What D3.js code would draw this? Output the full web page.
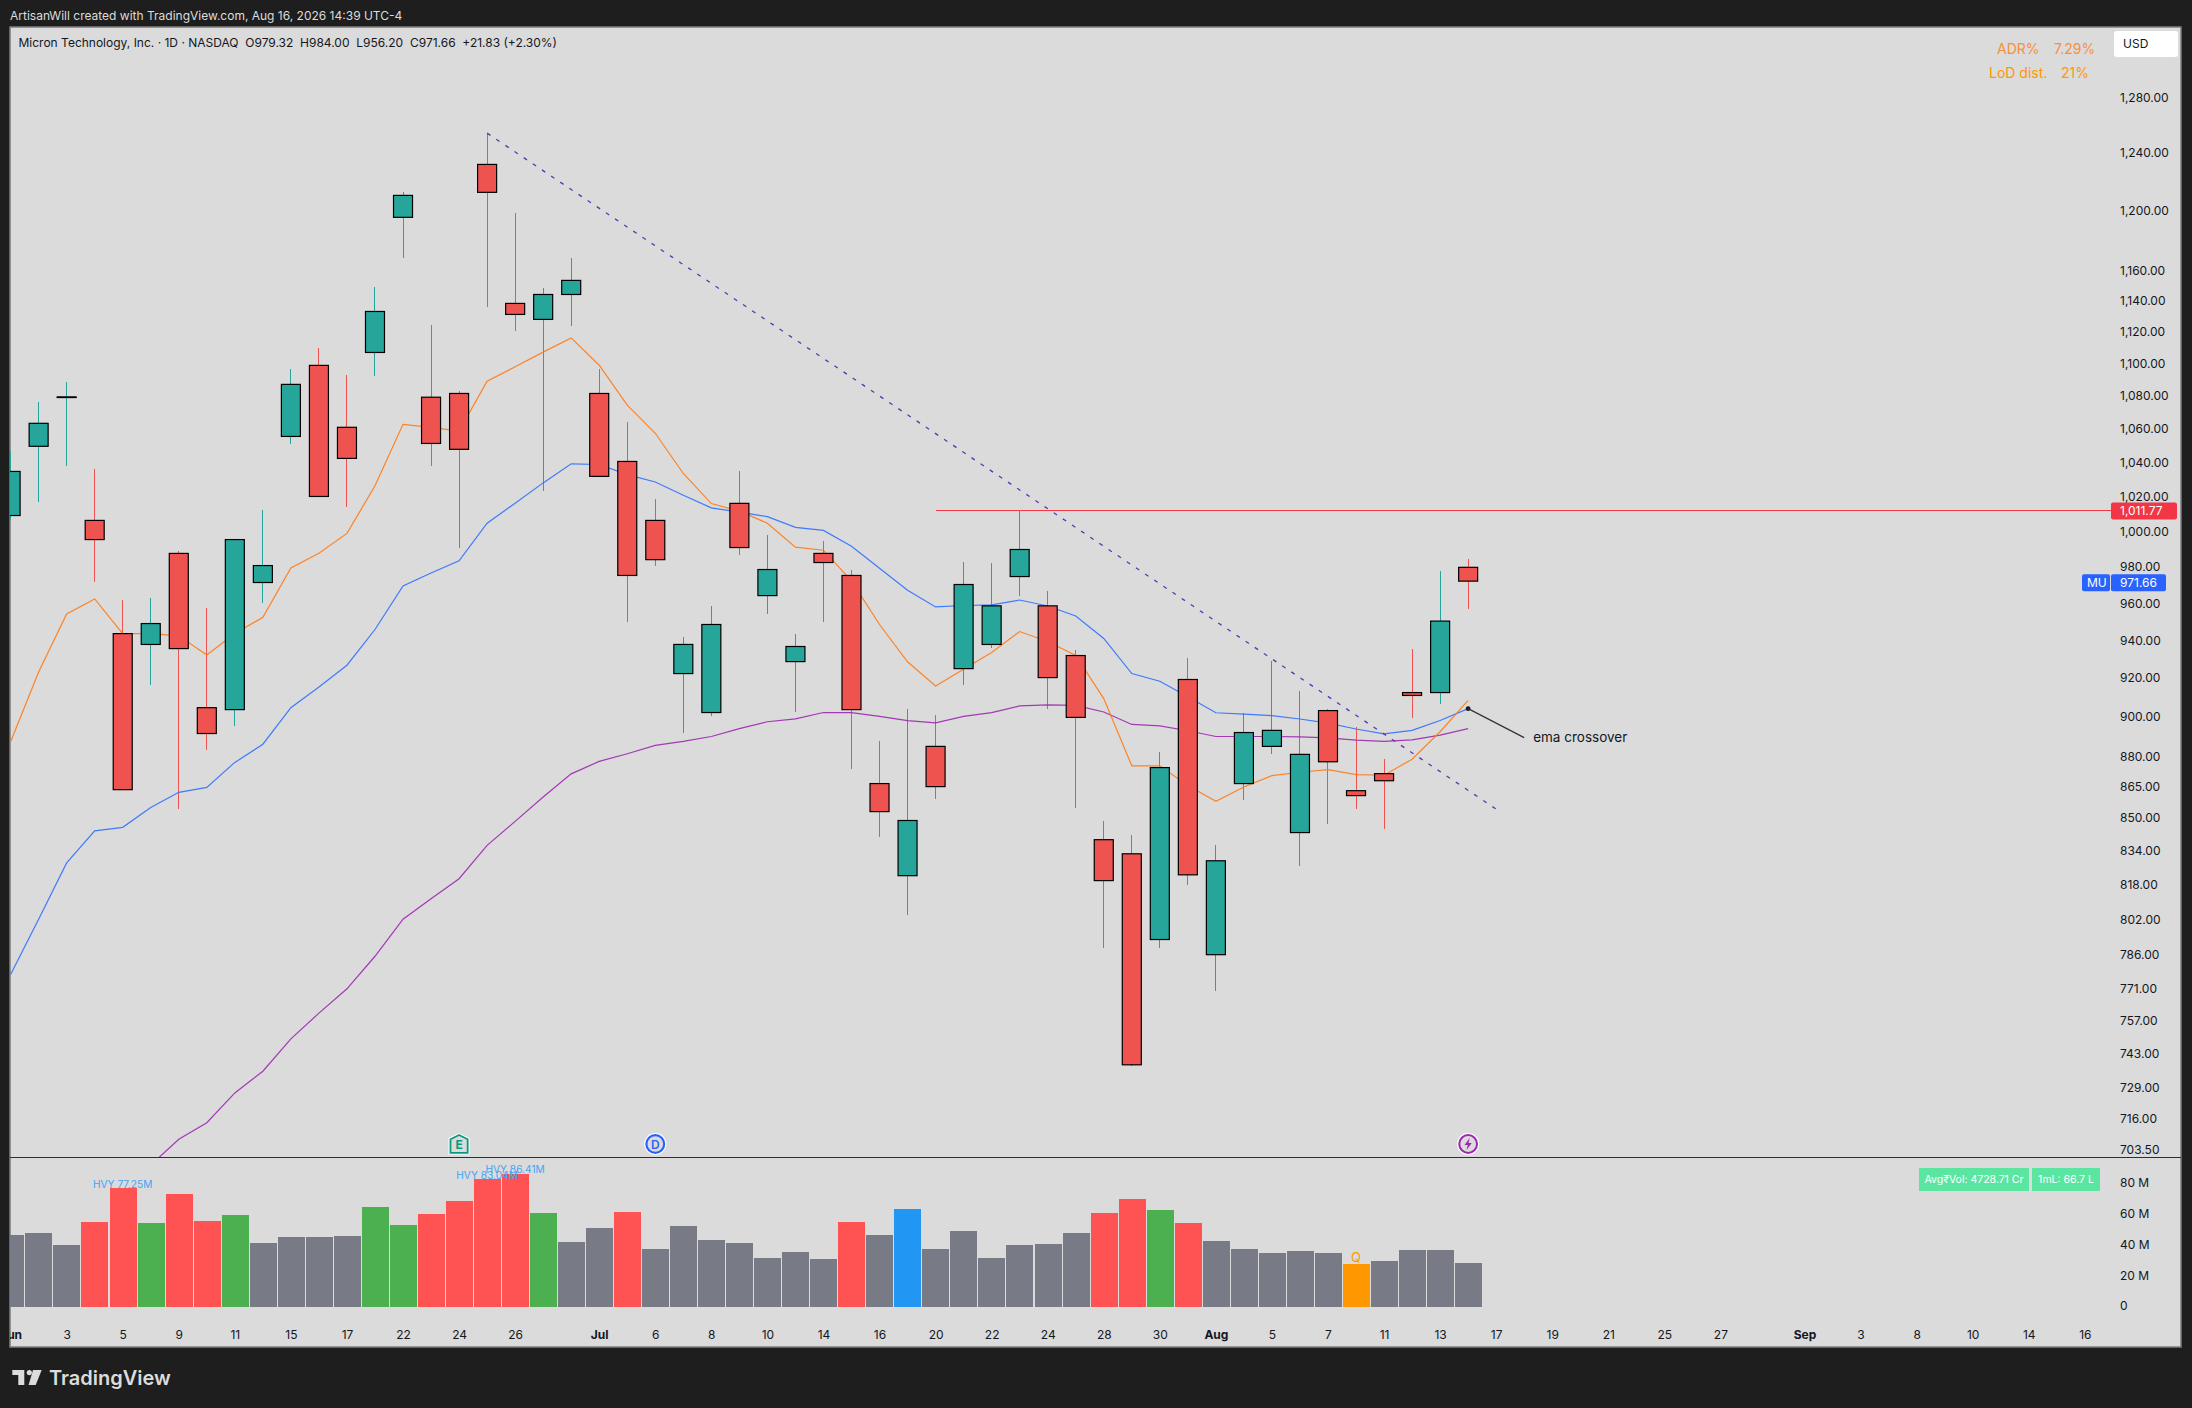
<!DOCTYPE html>
<html>
<head>
<meta charset="utf-8">
<style>
  html, body { margin: 0; padding: 0; background: #1e1e1e; }
  svg { display: block; }
  text { font-family: Inter, "Noto Sans", sans-serif; white-space: pre; }
</style>
<script src="https://cdn.jsdelivr.net/npm/d3@7"></script>
</head>
<body>
<div id="chart"></div>
<script>
// daily candles, index 0 is Jun 1 (last bar from the header)
var open_ = [1008.6,1049.1,1078.6,1005.8,943.1,937.3,987.1,904.2,903.2,970.9,1055.0,1098.5,1060.5,1106.6,1195.0,1078.8,1081.1,1231.5,1137.9,1127.6,1143.7,1081.1,1040.1,1005.8,921.9,901.7,1015.6,963.7,928.2,987.1,974.8,866.0,821.8,884.5,924.5,937.3,974.2,958.1,931.4,838.8,832.1,792.5,918.8,785.7,866.0,884.5,842.2,902.7,862.5,870.9,912.0,912.0,979.32];
var high = [1046.3,1075.9,1087.9,1035.6,961.1,962.2,988.4,956.7,995.5,1011.7,1096.2,1109.4,1092.4,1148.5,1212.3,1124.0,1082.4,1253.6,1197.9,1147.8,1167.5,1096.2,1063.7,1018.0,941.2,957.9,1034.4,997.4,942.8,994.0,977.7,887.1,903.4,900.3,982.2,981.6,1011.77,966.1,934.1,847.6,840.9,881.5,929.9,836.1,901.7,928.5,912.7,903.7,894.1,878.0,934.7,977.1,984.0];
var low = [1006.0,1016.6,1037.6,971.2,862.7,916.0,853.5,882.7,894.9,959.8,1050.6,1019.2,1013.6,1092.0,1167.7,1037.6,990.2,1135.7,1120.3,1022.9,1123.5,1030.9,949.4,980.1,891.3,899.9,986.3,953.7,902.0,949.2,873.2,840.1,803.6,858.4,916.0,935.4,963.6,903.5,854.0,788.7,737.4,788.7,817.4,769.6,857.9,880.7,826.3,846.3,853.5,843.9,899.0,906.0,956.2];
var close_ = [1034.2,1062.9,1079.0,994.9,863.0,948.5,935.1,891.0,994.9,980.3,1086.7,1019.6,1041.9,1132.7,1210.0,1050.8,1047.3,1212.1,1130.8,1143.7,1152.9,1031.3,974.8,983.6,937.3,948.0,990.4,978.1,936.2,982.0,903.2,852.3,848.0,864.5,969.8,958.1,989.3,919.8,899.2,819.5,738.0,873.9,822.2,828.8,891.5,892.6,880.5,876.8,860.1,867.4,910.5,949.83,971.66];

// the three moving averages
var emaFast = [886.8,922.7,953.7,961.9,943.1,943.1,941.9,931.7,943.1,951.9,979.0,987.2,998.4,1025.8,1062.3,1060.5,1058.2,1088.7,1097.6,1106.8,1115.8,1098.6,1073.9,1056.9,1033.0,1015.5,1011.1,1004.2,990.6,988.9,971.8,948.0,928.1,915.4,924.2,933.0,944.2,938.9,931.5,908.9,874.8,874.8,865.0,857.3,864.3,869.9,871.6,872.9,870.4,870.1,878.1,891.9,908.0];
var emaMid = [776.9,801.7,827.8,843.0,844.7,854.3,861.7,864.1,876.5,885.6,904.2,914.9,926.3,945.3,969.0,976.2,983.0,1004.2,1015.7,1027.5,1038.7,1038.3,1032.3,1028.0,1020.3,1013.0,1010.5,1008.0,1001.8,1000.1,991.1,978.8,966.6,957.5,958.3,958.6,961.3,958.0,952.6,940.5,921.9,917.9,909.8,901.6,900.9,900.1,898.4,896.3,893.3,890.8,892.6,897.6,903.7];
var emaSlow = [null,null,null,null,null,697.1,707.4,714.1,726.3,735.3,749.0,760.0,770.6,785.0,801.7,811.1,820.4,836.1,847.6,859.4,870.8,877.0,880.8,885.0,887.0,889.5,893.5,897.0,898.5,901.7,901.7,899.7,897.6,896.4,899.7,901.7,905.1,905.6,905.4,902.0,895.6,894.9,892.4,889.5,889.5,889.5,889.3,888.8,887.7,887.0,887.8,890.2,893.5];

// volume in millions, and what kind of bar each one is
var volume = [46.8,48.1,40.3,55.2,77.25,54.5,73.4,55.8,59.7,41.6,45.5,45.5,46.1,64.9,53.2,60.4,68.8,83.04,86.41,61.0,42.2,51.3,61.7,37.7,52.6,43.5,41.6,31.8,35.7,31.2,55.2,46.8,63.6,37.7,49.4,31.8,40.3,40.9,48.1,61.0,70.1,63.0,54.5,42.9,37.7,35.1,36.4,35.1,27.9,29.9,37.0,37.0,28.6];
var volKind = ["n","n","n","d","d","u","d","d","u","n","n","n","n","u","u","d","d","d","d","u","n","n","d","n","n","n","n","n","n","n","d","n","b","n","n","n","n","n","n","d","d","u","d","n","n","n","n","n","q","n","n","n","n"];

var priceTicks = [1280,1240,1200,1160,1140,1120,1100,1080,1060,1040,1020,1000,980,960,940,920,900,880,865,850,834,818,802,786,771,757,743,729,716,703.5];
var volTicks = [0,20,40,60,80];
var xTickIdx = [0,2,4,6,8,10,12,14,16,18,21,23,25,27,29,31,33,35,37,39,41,43,45,47,49,51,53,55,57,59,61,64,66,68,70,72,74];
var xTickLabels = ["Jun","3","5","9","11","15","17","22","24","26","Jul","6","8","10","14","16","20","22","24","28","30","Aug","5","7","11","13","17","19","21","25","27","Sep","3","8","10","14","16"];

var hvyLabels = [{i:4, v:77.25, t:"HVY 77.25M"}, {i:17, v:83.04, t:"HVY 83.04M"}, {i:18, v:86.41, t:"HVY 86.41M"}];
var resistance = 1011.77, lastPrice = 971.66;
var trendFrom = {i:17, p:1253.6}, trendTo = {i:53, p:853.5};

var W = 2192, H = 1408;
var panel = {l:10, r:2181, t:27, b:1347, sep:1157};

var svg = d3.select("#chart").append("svg").attr("width", W).attr("height", H);

var x = d3.scaleLinear().domain([0, 74]).range([10.6, 2084.8]);
var y = d3.scaleLog().domain([1280, 703.5]).range([96.5, 1149]);
var yVol = d3.scaleLinear().domain([0, 80]).range([1307, 1183.8]);

var defs = svg.append("defs");
defs.append("clipPath").attr("id", "pricePane").append("rect")
  .attr("x", panel.l).attr("y", panel.t).attr("width", panel.r - panel.l).attr("height", panel.sep - panel.t);
defs.append("clipPath").attr("id", "wholePane").append("rect")
  .attr("x", panel.l).attr("y", panel.t).attr("width", panel.r - panel.l).attr("height", panel.b - panel.t);

// background + frame
svg.append("rect").attr("width", W).attr("height", H).attr("fill", "#1e1e1e");
svg.append("rect").attr("x", panel.l).attr("y", panel.t)
  .attr("width", panel.r - panel.l).attr("height", panel.b - panel.t)
  .attr("fill", "#dbdbdb").attr("stroke", "#7e7e7e").attr("stroke-width", 1.5);

svg.append("text").attr("x", 10).attr("y", 20).attr("fill", "#dcdcdc").style("font-size", "12px")
  .text("ArtisanWill created with TradingView.com, Aug 16, 2026 14:39 UTC-4");
svg.append("text").attr("x", 18.5).attr("y", 47).attr("fill", "#131722").style("font-size", "12px")
  .text("Micron Technology, Inc. · 1D · NASDAQ  O979.32  H984.00  L956.20  C971.66  +21.83 (+2.30%)");

// price pane
var pane = svg.append("g").attr("clip-path", "url(#pricePane)");

// red level line
pane.append("line").attr("x1", x(33)).attr("x2", 2111)
  .attr("y1", y(resistance)).attr("y2", y(resistance))
  .attr("stroke", "#f23645").attr("stroke-width", 1).attr("shape-rendering", "crispEdges");

// candles
var idx = d3.range(open_.length);
var bodyW = 19;
var upCol = "#26a69a", dnCol = "#ef5350";
function col(i) { return close_[i] >= open_[i] ? upCol : dnCol; }

pane.selectAll("line.wick").data(idx).enter().append("line")
  .attr("class", "wick")
  .attr("x1", function (i) { return x(i); }).attr("x2", function (i) { return x(i); })
  .attr("y1", function (i) { return y(high[i]); }).attr("y2", function (i) { return y(low[i]); })
  .attr("stroke", col).attr("stroke-width", 1).attr("shape-rendering", "crispEdges");

// moving averages go under the candle bodies
var line = d3.line()
  .defined(function (d) { return d != null; })
  .x(function (d, i) { return x(i); })
  .y(function (d) { return y(d); });

[[emaSlow, "#9c27b0"], [emaMid, "#2f6fff"], [emaFast, "#ff7a14"]].forEach(function (s) {
  pane.append("path").attr("d", line(s[0])).attr("fill", "none")
    .attr("stroke", s[1]).attr("stroke-width", 1.2).attr("stroke-opacity", 0.9);
});

pane.selectAll("rect.body").data(idx).enter().append("rect")
  .attr("class", "body")
  .attr("x", function (i) { return x(i) - bodyW / 2; })
  .attr("width", bodyW)
  .attr("y", function (i) { return y(Math.max(open_[i], close_[i])); })
  .attr("height", function (i) { return Math.abs(y(open_[i]) - y(close_[i])); })
  .attr("fill", col).attr("stroke", "#000").attr("stroke-width", 1.2);

// down trend line
pane.append("line")
  .attr("x1", x(trendFrom.i)).attr("y1", y(trendFrom.p))
  .attr("x2", x(trendTo.i)).attr("y2", y(trendTo.p))
  .attr("stroke", "#5e35b1").attr("stroke-width", 1.3).attr("stroke-dasharray", "4 7");

// annotation
var noteX = x(52), noteY = y(emaMid[52]);
pane.append("circle").attr("cx", noteX).attr("cy", noteY).attr("r", 2.4).attr("fill", "#131722");
pane.append("line").attr("x1", noteX).attr("y1", noteY).attr("x2", noteX + 56).attr("y2", noteY + 29)
  .attr("stroke", "#333").attr("stroke-width", 1.2);
pane.append("text").attr("x", noteX + 65).attr("y", noteY + 29).attr("dy", ".35em")
  .attr("fill", "#131722").style("font-size", "13.5px").text("ema crossover");

// event markers sitting on the pane edge
var markY = 1144;
var mE = svg.append("g").attr("transform", "translate(" + x(16) + "," + markY + ")");
mE.append("path").attr("d", "M0,-11 L10.5,-6 V10.5 H-10.5 V-6 Z").attr("fill", "#fff");
mE.append("path").attr("d", "M0,-9 L8.6,-4.8 V8.8 H-8.6 V-4.8 Z").attr("fill", "#dbdbdb").attr("stroke", "#089981").attr("stroke-width", 1.8);
mE.append("text").attr("text-anchor", "middle").attr("dy", ".38em").attr("fill", "#089981")
  .style("font-size", "12px").style("font-weight", 700).text("E");

var mD = svg.append("g").attr("transform", "translate(" + x(23) + "," + markY + ")");
mD.append("circle").attr("r", 11).attr("fill", "#fff");
mD.append("circle").attr("r", 8.9).attr("fill", "#dbdbdb").attr("stroke", "#2962ff").attr("stroke-width", 2.2);
mD.append("text").attr("text-anchor", "middle").attr("dy", ".38em").attr("fill", "#2962ff")
  .style("font-size", "12px").style("font-weight", 600).text("D");

var mS = svg.append("g").attr("transform", "translate(" + x(52) + "," + markY + ")");
mS.append("circle").attr("r", 11).attr("fill", "#fff");
mS.append("circle").attr("r", 8.9).attr("fill", "#dbdbdb").attr("stroke", "#9c27b0").attr("stroke-width", 2);
mS.append("path").attr("d", "M1.6,-6 L-3.6,1 H-0.4 L-1.6,6 L3.6,-1 H0.4 Z").attr("fill", "#9c27b0");

// pane separator
svg.append("line").attr("x1", panel.l).attr("x2", panel.r).attr("y1", panel.sep).attr("y2", panel.sep)
  .attr("stroke", "#2a2e39").attr("stroke-width", 1).attr("shape-rendering", "crispEdges");

// volume
var volCol = d3.scaleOrdinal().domain(["n","d","u","b","q"])
  .range(["#787b86", "#ff5252", "#4caf50", "#2196f3", "#ff9800"]);
var vol = svg.append("g").attr("clip-path", "url(#wholePane)");
vol.selectAll("rect").data(volume).enter().append("rect")
  .attr("x", function (d, i) { return x(i) - 13.2; })
  .attr("width", 27)
  .attr("y", function (d) { return yVol(d); })
  .attr("height", function (d) { return yVol(0) - yVol(d); })
  .attr("fill", function (d, i) { return volCol(volKind[i]); })
  .attr("shape-rendering", "crispEdges");

vol.selectAll("text.hvy").data(hvyLabels).enter().append("text")
  .attr("class", "hvy").attr("text-anchor", "middle")
  .attr("x", function (d) { return x(d.i); })
  .attr("y", function (d) { return yVol(d.v) - 0.5; })
  .attr("fill", "#42a5f5").style("font-size", "10.2px")
  .text(function (d) { return d.t; });
vol.append("text").attr("text-anchor", "middle").attr("x", x(48)).attr("y", yVol(volume[48]) - 2.5)
  .attr("fill", "#ff9800").style("font-size", "13px").text("Q");

// badges
function badge(bx, bw, label) {
  svg.append("rect").attr("x", bx).attr("y", 1168).attr("width", bw).attr("height", 23).attr("fill", "#5ae6a1");
  svg.append("text").attr("x", bx + bw / 2).attr("y", 1179.5).attr("dy", ".35em").attr("text-anchor", "middle")
    .attr("fill", "#fff").style("font-size", "10.5px").text(label);
}
badge(1919, 110, "Avg₹Vol: 4728.71 Cr");
badge(2032, 68, "1mL: 66.7 L");

// axes
function tidy(g) {
  g.select(".domain").remove();
  g.selectAll("line").remove();
  g.selectAll("text").attr("fill", "#131722").style("font-family", "Inter, 'Noto Sans', sans-serif").style("font-size", "12px");
}
var yAxis = d3.axisRight(y).tickValues(priceTicks).tickSize(0).tickPadding(0)
  .tickFormat(function (d) { return d3.format(",.2f")(d); });
svg.append("g").attr("transform", "translate(2120,0.8)").call(yAxis).call(tidy);

var vAxis = d3.axisRight(yVol).tickValues(volTicks).tickSize(0).tickPadding(0)
  .tickFormat(function (d) { return d === 0 ? "0" : d + " M"; });
svg.append("g").attr("transform", "translate(2120,-1)").call(vAxis).call(tidy);

var xAxis = d3.axisBottom(x).tickValues(xTickIdx).tickSize(0).tickPadding(0)
  .tickFormat(function (d, i) { return xTickLabels[i]; });
svg.append("g").attr("clip-path", "url(#wholePane)")
  .append("g").attr("transform", "translate(0,1335)").call(xAxis).call(tidy)
  .selectAll("text").attr("y", 0).attr("dy", ".35em")
  .style("font-weight", function (d, i) { return /[A-Za-z]/.test(xTickLabels[i]) ? 700 : 400; });

// price tags on the axis
function tag(bx, bw, by, fill, label, tx) {
  svg.append("rect").attr("x", bx).attr("y", by - 8.5).attr("width", bw).attr("height", 17).attr("rx", 2).attr("fill", fill);
  svg.append("text").attr("x", tx).attr("y", by).attr("dy", ".35em").attr("fill", "#fff")
    .style("font-size", "12px").text(label);
}
tag(2111, 66, y(resistance) + 1, "#f23645", d3.format(",.2f")(resistance), 2120);
tag(2111, 55, y(lastPrice) + 1.5, "#2962ff", d3.format(",.2f")(lastPrice), 2120);
tag(2082, 28, y(lastPrice) + 1.5, "#2962ff", "MU", 2087);

// top right bits
svg.append("rect").attr("x", 2114).attr("y", 31).attr("width", 64).attr("height", 26).attr("rx", 3).attr("fill", "#fff");
svg.append("text").attr("x", 2123).attr("y", 43.5).attr("dy", ".35em").attr("fill", "#131722").style("font-size", "12px").text("USD");
[[1997, 49, "#f7903a", "ADR%"], [2054, 49, "#f7903a", "7.29%"], [1989, 73, "#ff9800", "LoD dist."], [2061, 73, "#ff9800", "21%"]].forEach(function (s) {
  svg.append("text").attr("x", s[0]).attr("y", s[1]).attr("dy", ".35em").attr("fill", s[2]).style("font-size", "14px").text(s[3]);
});

// logo
var logo = svg.append("g").attr("fill", "#dcdcdc");
logo.append("path").attr("d", "M12.3,1370 H24.3 V1385 H18.3 V1375 H12.3 Z");
logo.append("circle").attr("cx", 29.3).attr("cy", 1372.6).attr("r", 2.6);
logo.append("path").attr("d", "M33,1370 H41.7 L35.7,1385 H28.6 Z");
svg.append("text").attr("x", 49).attr("y", 1378).attr("dy", ".36em").attr("fill", "#dcdcdc")
  .style("font-size", "20px").style("font-weight", 600).text("TradingView");
</script>
</body>
</html>
